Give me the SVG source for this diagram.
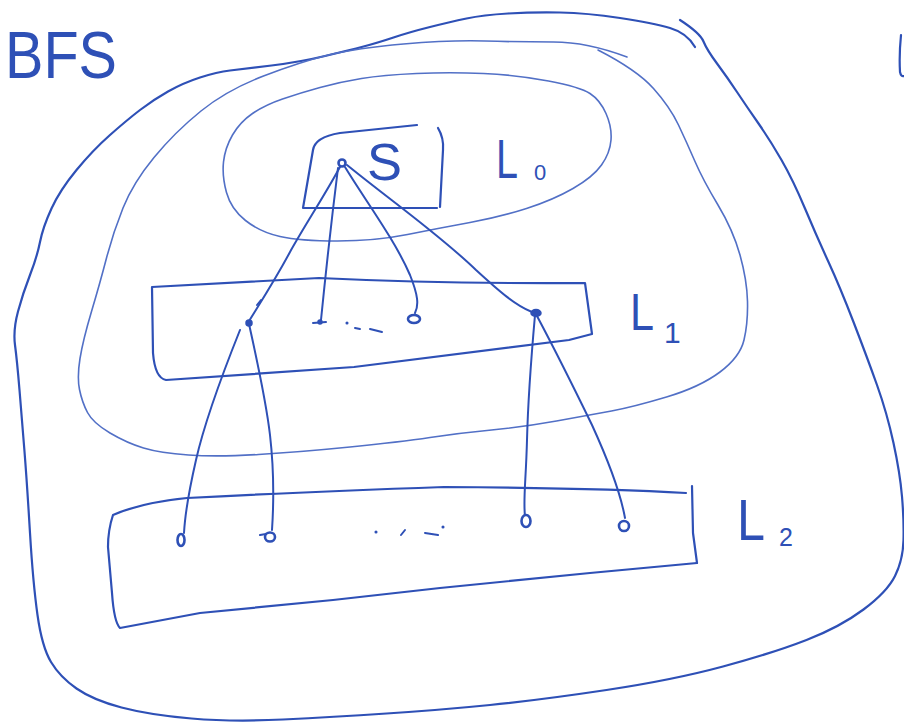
<svg xmlns="http://www.w3.org/2000/svg" width="904" height="727" viewBox="0 0 904 727">
<style>
.pen{fill:none;stroke:#2e50b6;stroke-width:2.2;stroke-linecap:round;stroke-linejoin:round}
.thin{fill:none;stroke:#5270c6;stroke-width:1.6;stroke-linecap:round;stroke-linejoin:round}
.edge{fill:none;stroke:#2e50b6;stroke-width:2;stroke-linecap:round}
.dot{fill:#2e50b6;stroke:#2e50b6;stroke-width:1.5}
.ring{fill:#ffffff;stroke:#2e50b6;stroke-width:2.6}
.lbl{font-family:"Liberation Sans",Arial,sans-serif;fill:#2e50b6}
</style>
<rect width="904" height="727" fill="#ffffff"/>
<g id="title"><text class="lbl" x="5" y="78" font-size="66" textLength="112" lengthAdjust="spacingAndGlyphs">BFS</text></g>
<path class="pen" stroke-width="3" d="M901,35 Q899,55 900,72 Q901,77 904,76"/>
<g id="outer-region">
<path class="pen" d="M680,20 Q700,33 703.5,41.5 Q707,50 717,63.5 Q727,77 737,92 Q747,107 758.5,123.5 Q770,140 781.5,160 Q793,180 805,208.5 Q817,237 828.5,262 Q840,287 853.5,322 Q867,357 877,385 Q887,413 893.5,443 Q900,473 902,496.5 Q904,520 903.5,540 Q903,560 895,576 Q887,592 863.5,609.5 Q840,627 806.5,640 Q773,653 723,666.5 Q673,680 606.5,690 Q540,700 490,705 Q440,710 386.5,713.5 Q333,717 283,719.5 Q233,722 191.5,718.5 Q150,715 121.5,707.5 Q93,700 76.5,688.5 Q60,677 51,662 Q42,647 37.5,615 Q33,583 30,533 Q27,483 24.5,451.5 Q22,420 19.5,390 Q17,360 15,345 Q13,330 18,311.5 Q23,293 30,275 Q37,257 40,242 Q43,227 51.5,208.5 Q60,190 76.5,170 Q93,150 110,135 Q127,120 140,110 Q153,100 168,91.5 Q183,83 200,77.5 Q217,72 230,70.5 Q243,69 271.5,65.5 Q300,62 325,56 Q350,50 363.5,46.5 Q377,43 393.5,37.5 Q410,32 430,27 Q450,22 466.5,18.5 Q483,15 508,13.5 Q533,12 560,12.5 Q587,13 620,18 Q653,23 670,28 Q687,33 695,47"/>
</g>
<g id="middle-region">
<path class="thin" d="M627,57 Q587,42 553.5,42 Q520,42 485,41 Q450,40 403.5,44 Q357,48 328.5,55 Q300,62 263.5,76 Q227,90 201,111 Q175,132 154,157.5 Q133,183 123,208 Q113,233 106.5,258 Q100,283 91.5,311.5 Q83,340 80,358.5 Q77,377 79.5,389.5 Q82,402 87.5,412.5 Q93,423 110,433 Q127,443 143.5,448 Q160,453 188.5,455 Q217,457 258.5,454.5 Q300,452 350,447 Q400,442 430,437.5 Q460,433 491.5,430 Q523,427 556.5,421 Q590,415 611.5,411 Q633,407 666.5,397 Q700,387 720,372 Q740,357 744,340 Q748,323 747.5,301.5 Q747,280 740,255 Q733,230 718,205 Q703,180 695,161.5 Q687,143 678.5,125 Q670,107 653.5,88.5 Q637,70 598,50"/>
</g>
<g id="L0-region">
<path class="thin" d="M223.5,162 Q225,148 232.5,135 Q240,122 252.5,113.5 Q265,105 282.5,99 Q300,93 320,87.5 Q340,82 361.5,78.5 Q383,75 416.5,73.5 Q450,72 483.5,73.5 Q517,75 548.5,81 Q580,87 590,93.5 Q600,100 606,113.5 Q612,127 611,140 Q610,153 601.5,165 Q593,177 573,188.5 Q553,200 526.5,208.5 Q500,217 470,222.5 Q440,228 407.5,234.5 Q375,241 337.5,241 Q300,241 280,236.5 Q260,232 245.5,220.5 Q231,209 226.5,192.5 Q222,176 223.5,162 Z"/>
<text class="lbl" x="496" y="178" font-size="56" textLength="22" lengthAdjust="spacingAndGlyphs">L</text>
<text class="lbl" x="534" y="180" font-size="22">0</text>
</g>
<g id="node-s">
<path class="pen" stroke-width="2.6" d="M417,125 L340,133 Q315,137 313,150 L303,208 L437,208"/>
<path class="pen" stroke-width="2.6" d="M438,128 Q444,138 443,150 L440,207"/>
<text class="lbl" x="367" y="180" font-size="52" textLength="35" lengthAdjust="spacingAndGlyphs">S</text>
</g>
<g id="layer-L1">
<path class="pen" d="M585,283 Q450,284 319,278 Q230,283 152,287 L153,353 Q155,378 166,380 L354,367 L569,340 L592,334 L585,283"/>
<text class="lbl" x="630" y="330" font-size="52" textLength="24" lengthAdjust="spacingAndGlyphs">L</text>
<text class="lbl" x="664" y="343" font-size="30">1</text>
<circle class="dot" cx="347" cy="323" r="0.8"/>
<path class="edge" stroke-width="1.8" d="M355,328 L360,329 M370,329 L382,332"/>
</g>
<g id="layer-L2">
<path class="pen" d="M686,493 Q600,488 444,487 Q300,492 187,498 Q140,503 113,515 Q108,530 108,547 L112,593 Q114,622 120,628 L200,613 L333,600 L440,588 L590,573 L697,563"/>
<path class="pen" d="M692,486 L693,533 L697,563"/>
<text class="lbl" x="737" y="540" font-size="58" textLength="28" lengthAdjust="spacingAndGlyphs">L</text>
<text class="lbl" x="779" y="546" font-size="25">2</text>
<circle class="dot" cx="376" cy="532" r="0.8"/>
<path class="edge" stroke-width="2" d="M401,535 L405,530 M425,533 L438,535"/>
<circle class="dot" cx="443" cy="527" r="0.8"/>
</g>
<g id="connectors">
<path class="edge" d="M341,165 C328,190 305,225 290,252 C275,280 262,300 249,321"/>
<path class="edge" d="M257,305 L261,300"/>
<path class="edge" d="M338,168 C334,200 328,250 321,320"/>
<path class="edge" d="M345,167 C365,200 395,240 410,275 C418,295 419,305 415,313"/>
<path class="edge" d="M347,165 C390,200 440,235 476,270 C500,292 515,305 532,312"/>
<path class="edge" d="M240,330 C222,375 205,420 196,460 C188,495 185,515 184,533"/>
<path class="edge" d="M249,324 C258,365 266,400 270,435 C274,470 274,500 272,530"/>
<path class="edge" d="M535,315 C531,360 528,400 527,440 C526,480 523,500 525,516"/>
<path class="edge" d="M537,316 C555,350 575,390 592,425 C608,460 620,490 625,518"/>
</g>
<g id="nodes">
<circle id="n-s" class="ring" stroke-width="2" cx="342" cy="163" r="3.5"/>
<circle id="n-l1a" class="dot" cx="249" cy="323" r="3"/>
<g id="n-l1b"><circle class="dot" cx="320" cy="322" r="2"/><path class="edge" stroke-width="2.4" d="M313,323 L326,322"/></g>
<ellipse id="n-l1c" class="ring" cx="414" cy="319" rx="6" ry="4"/>
<ellipse id="n-l1d" class="dot" cx="536" cy="313" rx="5" ry="3.5"/>
<ellipse id="n-l2a" class="ring" stroke-width="3" cx="181" cy="540" rx="3.5" ry="6"/>
<g id="n-l2b"><ellipse class="ring" stroke-width="3" cx="270" cy="537" rx="5" ry="4.5"/><path class="edge" stroke-width="2.6" d="M260,535 L266,534"/></g>
<ellipse id="n-l2c" class="ring" stroke-width="3.5" cx="526" cy="521" rx="4.5" ry="6"/>
<ellipse id="n-l2d" class="ring" stroke-width="3" cx="624" cy="526" rx="5" ry="5"/>
</g>
</svg>
